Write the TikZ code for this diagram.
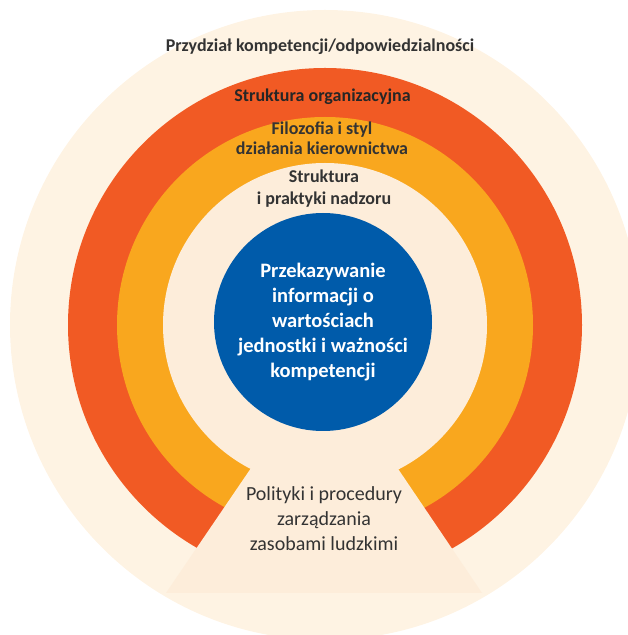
\documentclass[tikz,border=0pt]{standalone}
\usepackage{fontspec}
\setmainfont{Carlito}
\definecolor{creamout}{HTML}{FEF3E3}
\definecolor{creamin}{HTML}{FDEDDA}
\definecolor{ringred}{HTML}{F15A24}
\definecolor{ringyel}{HTML}{F9A71E}
\definecolor{coreblue}{HTML}{005BAA}
\definecolor{txtdark}{HTML}{333333}
\begin{document}
\begin{tikzpicture}[x=1pt,y=1pt,
  ringlabel/.style={text=txtdark,align=center,inner sep=0pt,font=\fontsize{18}{20}\selectfont\bfseries},
  corelabel/.style={text=white,align=center,inner sep=0pt,font=\fontsize{20.5}{25}\selectfont\bfseries},
  baselabel/.style={text=txtdark,align=center,inner sep=0pt,font=\fontsize{20}{25}\selectfont}]
\useasboundingbox (0,0) rectangle (627,635);
\coordinate (c) at (325,310);
% outer cream disc
\fill[creamout] (c) circle[radius=315];
% rings
\fill[ringred] (c) circle[radius=257];
\fill[ringyel] (c) circle[radius=208];
\fill[creamin] (c) circle[radius=162];
% cut-out wedge at the bottom
\begin{scope}
  \clip (c) circle[radius=315];
  \fill[creamin] (324.5,275) -- (166,42) -- (482,42) -- cycle;
\end{scope}
% core
\node[circle,fill=coreblue,minimum size=218pt,inner sep=0pt] (core) at (323,313) {};
% labels
\node[ringlabel,anchor=base] (l1) at (320,583.3) {Przydział kompetencji/odpowiedzialności};
\node[ringlabel,anchor=base,text=black!85] (l2) at (322.5,533.3) {Struktura organizacyjna};
\node[ringlabel] (l3) at (322,497) {Filozofia i styl\\działania kierownictwa};
\node[ringlabel,font=\fontsize{18}{22}\selectfont\bfseries] (l4) at (324,446) {Struktura\\i praktyki nadzoru};
\node[corelabel] (l5) at (core.center) {Przekazywanie\\informacji o\\wartościach\\jednostki i ważności\\kompetencji};
\node[baselabel] (l6) at (324,116) {Polityki i procedury\\zarządzania\\zasobami ludzkimi};
\end{tikzpicture}
\end{document}
